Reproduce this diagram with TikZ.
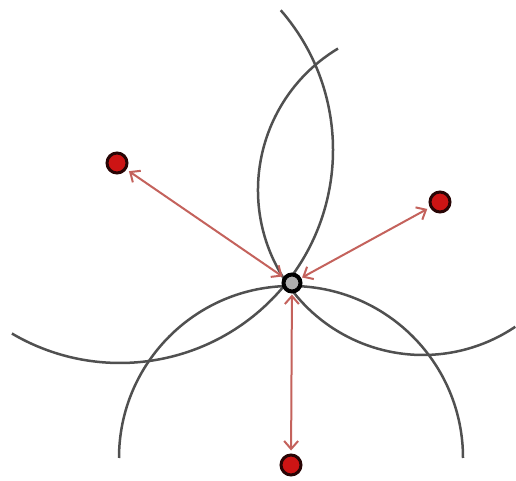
\documentclass[tikz,border=0pt]{standalone}
\usetikzlibrary{arrows.meta}
\definecolor{arcgray}{RGB}{80,80,80}
\definecolor{arrred}{RGB}{196,98,92}
\definecolor{dotred}{RGB}{205,20,20}
\definecolor{dotrim}{RGB}{40,5,5}
\definecolor{hubfill}{RGB}{175,175,175}
\tikzset{
  arcline/.style={draw=arcgray, line width=2.5pt},
  reddot/.style={circle, fill=dotred, draw=dotrim, line width=3pt, minimum size=20pt, inner sep=0pt},
  hub/.style={circle, fill=hubfill, draw=black, line width=4pt, minimum size=17pt, inner sep=0pt},
  dblarrow/.style={draw=arrred, line width=2pt,
    {Straight Barb[length=8pt,width=14pt,line width=2pt]}-{Straight Barb[length=8pt,width=14pt,line width=2pt]},
    shorten >=3pt, shorten <=1pt}
}
\begin{document}
\begin{tikzpicture}[x=1pt,y=1pt]
\useasboundingbox[fill=white] (0,0) rectangle (516,481);
% circle centred near the upper-left dot
\coordinate (c1) at (120,331);
\draw[arcline] (c1) ++(41:213) arc[start angle=41, end angle=-120.5, radius=213];
% circle centred near the right dot
\coordinate (c2) at (423,291);
\draw[arcline] (c2) ++(121:165) arc[start angle=121, end angle=304, radius=165];
% circle centred near the lower dot
\coordinate (c3) at (291,23);
\draw[arcline] (c3) ++(180:172) arc[start angle=180, end angle=0, radius=172];
% nodes
\node[hub] (C) at (292,198) {};
\node[reddot] (A) at (117,318) {};
\node[reddot] (B) at (440,279) {};
\node[reddot] (D) at (291,16) {};
% arrows
\draw[dblarrow] (C) -- (A);
\draw[dblarrow] (C) -- (B);
\draw[dblarrow] (C) -- (D);
\end{tikzpicture}
\end{document}
